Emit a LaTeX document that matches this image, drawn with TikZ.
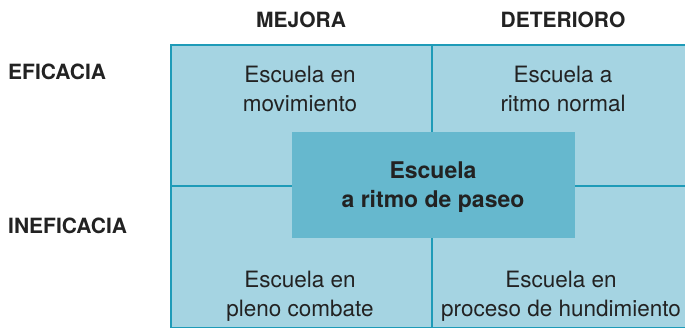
\documentclass[tikz,border=0pt]{standalone}
\usepackage{fontspec}
\setmainfont{TeX Gyre Heros}
\usetikzlibrary{positioning}
\definecolor{celda}{HTML}{A5D4E2}
\definecolor{centro}{HTML}{66B8CE}
\definecolor{borde}{HTML}{1E9BB8}
\definecolor{texto}{HTML}{222222}
\tikzset{
  head/.style={font=\fontsize{21}{25}\selectfont\bfseries,text=texto,inner sep=0pt},
  celltext/.style={font=\fontsize{22.5}{28.5}\selectfont,text=texto,align=center,inner sep=0pt},
}

\begin{document}
\begin{tikzpicture}[x=1pt,y=-1pt]
\useasboundingbox (0,0) rectangle (685,327);
% cuadrantes
\draw [borde,line width=1.3pt,fill=celda] (171,45) rectangle (686,328);
\draw [borde,line width=1.3pt] (432,45) -- (432,328);
\draw [borde,line width=1.3pt] (171,186) -- (686,186);
\node [fill=centro,minimum width=283pt,minimum height=106pt,inner sep=0pt] (paseo) at (433.5,185) {};
% encabezados
\node [head] (mejora) at (301,20) {MEJORA};
\node [head] (deterioro) at (563,20) {DETERIORO};
\node [head,anchor=west] (eficacia) at (8,72) {EFICACIA};
\node [head,anchor=west] (ineficacia) at (8,226) {INEFICACIA};
% textos
\node [celltext] (movimiento) at (300,89) {Escuela en\\movimiento};
\node [celltext] (normal) at (563,89) {Escuela a\\ritmo normal};
\node [celltext] (combate) at (300,296) {Escuela en\\pleno combate};
\node [celltext] (hundimiento) at (561,296) {Escuela en\\proceso de hundimiento};
\node [celltext,font=\fontsize{23}{29}\selectfont\bfseries] (paseotxt) at (433,187) {Escuela\\a ritmo de paseo};
\end{tikzpicture}
\end{document}
